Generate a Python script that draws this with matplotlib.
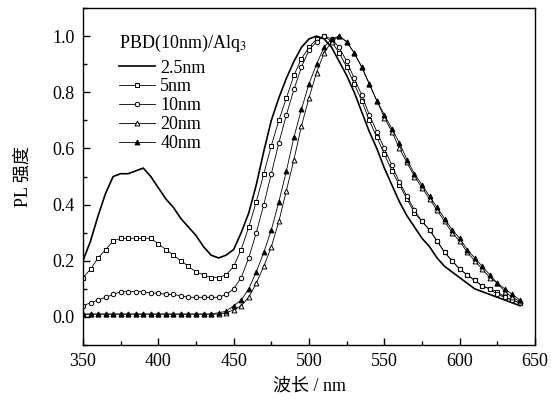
import matplotlib
matplotlib.use("Agg")
import matplotlib.pyplot as plt
from matplotlib.ticker import MultipleLocator, FuncFormatter

plt.rcParams['font.family'] = ['Liberation Serif', 'Noto Sans CJK SC']
plt.rcParams['mathtext.fontset'] = 'stix'

# wavelength grid (nm)
wavelength = list(range(350, 645, 5))

pl_2_5nm = [0.20, 0.27, 0.36, 0.44, 0.50, 0.51, 0.51, 0.52, 0.53, 0.50,
            0.46, 0.42, 0.39, 0.35, 0.32, 0.29, 0.25, 0.22, 0.21, 0.22,
            0.24, 0.30, 0.37, 0.47, 0.59, 0.70, 0.78, 0.85, 0.91, 0.96,
            0.99, 1.00, 0.99, 0.96, 0.91, 0.86, 0.80, 0.73, 0.66, 0.60,
            0.53, 0.47, 0.41, 0.36, 0.32, 0.28, 0.25, 0.21, 0.18, 0.16,
            0.14, 0.12, 0.10, 0.09, 0.08, 0.07, 0.06, 0.05, 0.04]

pl_5nm = [0.14, 0.17, 0.21, 0.24, 0.27, 0.28, 0.28, 0.28, 0.28, 0.28,
          0.26, 0.24, 0.22, 0.20, 0.18, 0.16, 0.15, 0.14, 0.14, 0.15,
          0.18, 0.24, 0.32, 0.41, 0.51, 0.61, 0.70, 0.78, 0.86, 0.92,
          0.96, 0.99, 1.00, 0.98, 0.94, 0.89, 0.83, 0.77, 0.70, 0.64,
          0.58, 0.52, 0.47, 0.42, 0.37, 0.34, 0.31, 0.27, 0.23, 0.20,
          0.17, 0.15, 0.13, 0.11, 0.10, 0.09, 0.07, 0.06, 0.05]

pl_10nm = [0.04, 0.05, 0.06, 0.07, 0.08, 0.09, 0.09, 0.09, 0.09, 0.085,
           0.085, 0.08, 0.08, 0.075, 0.07, 0.07, 0.07, 0.07, 0.07, 0.08,
           0.10, 0.14, 0.21, 0.30, 0.40, 0.51, 0.62, 0.72, 0.81, 0.89,
           0.95, 0.98, 1.00, 0.99, 0.96, 0.91, 0.85, 0.79, 0.72, 0.66,
           0.60, 0.54, 0.48, 0.43, 0.38, 0.34, 0.31, 0.27, 0.23, 0.20,
           0.17, 0.15, 0.13, 0.11, 0.10, 0.08, 0.07, 0.06, 0.05]

pl_20nm = [0.01, 0.01, 0.01, 0.01, 0.01, 0.01, 0.01, 0.01, 0.01, 0.01,
           0.01, 0.01, 0.01, 0.01, 0.01, 0.01, 0.01, 0.01, 0.01, 0.015,
           0.025, 0.04, 0.07, 0.12, 0.18, 0.25, 0.34, 0.45, 0.56, 0.68,
           0.78, 0.87, 0.94, 0.98, 1.00, 0.98, 0.94, 0.89, 0.83, 0.77,
           0.71, 0.66, 0.60, 0.55, 0.50, 0.46, 0.42, 0.38, 0.34, 0.30,
           0.27, 0.23, 0.20, 0.17, 0.14, 0.12, 0.09, 0.07, 0.055]

pl_40nm = [0.01, 0.01, 0.01, 0.01, 0.01, 0.01, 0.01, 0.01, 0.01, 0.01,
           0.01, 0.01, 0.01, 0.01, 0.01, 0.01, 0.01, 0.01, 0.015, 0.02,
           0.04, 0.06, 0.10, 0.16, 0.23, 0.31, 0.41, 0.52, 0.64, 0.74,
           0.83, 0.90, 0.96, 0.99, 1.00, 0.98, 0.94, 0.89, 0.83, 0.77,
           0.72, 0.67, 0.62, 0.56, 0.51, 0.47, 0.43, 0.39, 0.35, 0.31,
           0.28, 0.24, 0.21, 0.18, 0.15, 0.12, 0.10, 0.08, 0.06]

fig = plt.figure(figsize=(5.51, 4.13), dpi=100)
ax = fig.add_axes([0.1506, 0.1646, 0.8204, 0.816])

ax.plot(wavelength, pl_2_5nm, color='black', lw=1.2, label='2.5nm')
ax.plot(wavelength, pl_5nm, color='black', lw=0.6, marker='s', ms=3.2,
        mfc='white', mew=0.7, label='5nm')
ax.plot(wavelength, pl_10nm, color='black', lw=0.6, marker='o', ms=3.2,
        mfc='white', mew=0.7, label='10nm')
ax.plot(wavelength, pl_20nm, color='black', lw=0.6, marker='^', ms=3.5,
        mfc='white', mew=0.7, label='20nm')
ax.plot(wavelength, pl_40nm, color='black', lw=0.6, marker='^', ms=3.5,
        mfc='black', mew=0.7, label='40nm')

ax.set_xlim(350, 650)
ax.set_ylim(-0.1, 1.1)
ax.xaxis.set_major_locator(MultipleLocator(50))
ax.xaxis.set_minor_locator(MultipleLocator(25))
ax.yaxis.set_major_locator(MultipleLocator(0.2))
ax.yaxis.set_minor_locator(MultipleLocator(0.1))
ax.yaxis.set_major_formatter(FuncFormatter(lambda v, p: '%.1f' % v))
ax.tick_params(which='both', direction='in', labelsize=13, top=False, right=False)
ax.tick_params(which='major', length=5, width=1, pad=6)
ax.tick_params(which='minor', length=3, width=1)
for s in ax.spines.values():
    s.set_linewidth(1.0)

ax.set_xlabel('波长 / nm', fontsize=13, labelpad=5)
ax.set_ylabel('PL 强度', fontsize=13, labelpad=15)

leg = ax.legend(loc='upper left', bbox_to_anchor=(0.055, 0.958), frameon=False,
                title='PBD(10nm)/Alq$_3$', title_fontsize=13, fontsize=13,
                handlelength=2.0, handletextpad=0.3, labelspacing=0.10,
                numpoints=1, alignment='left', borderaxespad=0.2)
leg._legend_box.sep = 4

fig.savefig('out.png', dpi=100)
